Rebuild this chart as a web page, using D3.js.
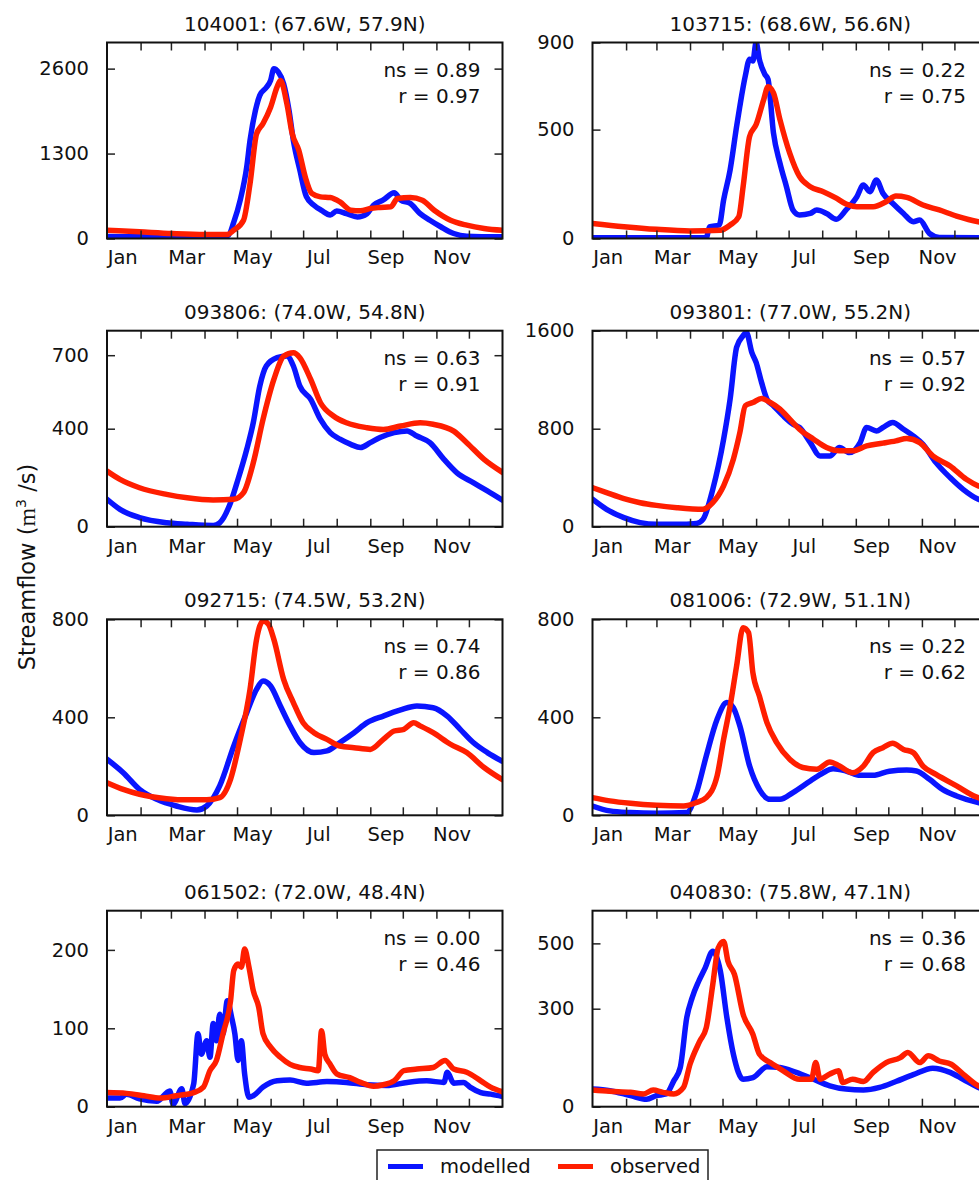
<!DOCTYPE html>
<html>
<head>
<meta charset="utf-8">
<script src="https://cdn.jsdelivr.net/npm/d3@7"></script>
<style>
  html, body { margin: 0; padding: 0; background: #fff; overflow: hidden; }
  svg { display: block; font-family: "DejaVu Sans", sans-serif; }
</style>
</head>
<body>
<div id="chart"></div>
<script>
// month axis (day of year)
const monthStarts = [0, 31, 59, 90, 120, 151, 181, 212, 243, 273, 304, 334];
const monthLabels = ["Jan", "Mar", "May", "Jul", "Sep", "Nov"];
const labelDays = [14, 73, 134, 195, 257, 318];

const stations = ["104001: (67.6W, 57.9N)", "103715: (68.6W, 56.6N)",
                  "093806: (74.0W, 54.8N)", "093801: (77.0W, 55.2N)",
                  "092715: (74.5W, 53.2N)", "081006: (72.9W, 51.1N)",
                  "061502: (72.0W, 48.4N)", "040830: (75.8W, 47.1N)"];
const nsValues = ["0.89", "0.22", "0.63", "0.57", "0.74", "0.22", "0.00", "0.36"];
const rValues  = ["0.97", "0.75", "0.91", "0.92", "0.86", "0.62", "0.46", "0.68"];
const yMax   = [3000, 900, 800, 1600, 800, 800, 250, 600];
const yTicks = [[0, 1300, 2600], [0, 500, 900], [0, 400, 700], [0, 800, 1600],
                [0, 400, 800], [0, 400, 800], [0, 100, 200], [0, 300, 500]];

// [day of year, m3/s]
const mod104001 = [[0,30],[30,25],[60,20],[90,20],[105,25],[112,50],[117,250],[123,590],[129,1100],[132,1500],[137,1960],[141,2190],[147,2310],[151,2420],[154,2600],[158,2550],[163,2370],[168,1960],[172,1500],[178,1045],[184,640],[191,510],[198,430],[206,360],[212,420],[221,380],[231,330],[240,380],[246,510],[255,590],[265,700],[271,590],[280,535],[289,380],[298,280],[308,180],[320,76],[332,36],[365,25]];
const obs104001 = [[0,127],[30,102],[60,76],[90,61],[111,61],[117,127],[126,280],[132,840],[138,1600],[144,1760],[151,2010],[157,2320],[160,2420],[166,2065],[171,1600],[177,1350],[183,940],[189,690],[197,637],[206,627],[215,560],[225,433],[234,423],[243,460],[252,475],[262,485],[268,612],[280,627],[291,586],[302,433],[317,280],[332,204],[348,153],[365,125]];

const mod103715 = [[0,3],[60,3],[105,3],[108,54],[117,62],[121,177],[127,315],[133,515],[136,608],[141,746],[145,823],[148,815],[151,900],[154,823],[159,754],[162,731],[167,485],[173,346],[179,238],[185,131],[191,108],[201,115],[207,131],[216,115],[225,88],[234,131],[244,192],[250,246],[256,215],[262,269],[268,208],[277,162],[287,115],[296,77],[302,85],[311,23],[320,5],[365,3]];
const obs103715 = [[0,69],[29,54],[59,42],[90,35],[118,38],[127,62],[135,100],[139,238],[145,469],[151,523],[158,638],[162,697],[167,669],[173,546],[182,392],[191,285],[201,238],[213,215],[225,185],[234,158],[244,146],[259,146],[271,169],[280,195],[290,189],[305,154],[320,131],[336,103],[356,77],[365,70]];

const mod093806 = [[0,112],[12,71],[30,37],[55,16],[74,10],[98,5],[104,16],[114,98],[120,180],[129,316],[135,425],[141,574],[147,656],[157,690],[166,697],[172,656],[178,574],[188,520],[197,438],[206,384],[215,357],[225,336],[234,323],[243,343],[252,364],[265,384],[277,391],[286,370],[298,343],[311,275],[323,220],[338,180],[351,146],[365,108]];
const obs093806 = [[0,227],[12,193],[30,159],[55,132],[74,118],[98,109],[117,112],[126,139],[135,261],[144,438],[154,601],[163,696],[172,710],[178,690],[188,601],[197,506],[209,452],[221,424],[240,404],[255,397],[271,411],[289,424],[301,418],[320,390],[332,343],[348,275],[365,222]];

const mod093801 = [[0,224],[13,142],[29,74],[44,33],[59,19],[78,19],[96,27],[102,60],[111,305],[121,714],[127,1041],[133,1464],[139,1559],[142,1587],[147,1423],[151,1341],[156,1178],[161,1041],[167,987],[176,905],[185,837],[191,810],[201,687],[210,578],[219,578],[228,646],[237,605],[247,687],[253,810],[262,782],[268,810],[277,851],[287,796],[296,742],[305,673],[317,523],[330,401],[342,305],[356,224],[365,200]];
const obs093801 = [[0,319],[13,278],[29,229],[44,196],[59,174],[78,155],[102,142],[111,196],[121,333],[130,551],[136,769],[141,987],[148,1014],[156,1047],[164,1014],[173,960],[182,878],[191,796],[204,714],[216,646],[228,619],[240,619],[253,660],[268,682],[280,701],[290,720],[302,687],[314,578],[330,496],[345,387],[356,333],[365,310]];

const mod092715 = [[0,229],[15,174],[30,106],[46,65],[64,38],[83,22],[92,38],[104,120],[117,283],[129,419],[138,514],[144,548],[151,528],[160,446],[169,365],[178,297],[191,256],[203,263],[215,297],[228,337],[240,378],[255,405],[271,430],[286,446],[301,439],[314,405],[326,351],[338,297],[351,256],[365,220]];
const obs092715 = [[0,133],[15,106],[30,86],[55,68],[74,63],[92,63],[104,72],[114,147],[123,310],[132,514],[138,718],[144,793],[149,780],[154,718],[163,555],[172,460],[181,378],[191,337],[203,310],[215,283],[228,276],[243,269],[255,310],[265,344],[274,351],[283,378],[289,365],[301,337],[317,290],[332,256],[348,195],[365,145]];

const mod081006 = [[0,38],[16,18],[35,11],[59,8],[87,11],[96,93],[105,242],[115,392],[124,460],[130,439],[136,365],[145,201],[154,106],[164,65],[173,65],[185,93],[201,140],[213,174],[222,190],[234,181],[247,163],[259,163],[274,180],[290,185],[299,181],[311,147],[323,106],[336,79],[356,52],[365,45]];
const obs081006 = [[0,72],[16,59],[35,49],[59,41],[84,38],[96,52],[105,72],[115,161],[121,310],[127,446],[133,610],[139,766],[144,746],[148,582],[154,487],[161,378],[170,297],[182,229],[194,195],[207,188],[219,218],[228,201],[240,174],[250,201],[259,256],[268,276],[277,294],[287,269],[296,256],[305,201],[317,167],[336,120],[356,72],[365,65]];

const mod061502 = [[0,11],[12,11],[18,16],[30,10],[46,7],[58,20],[61,3],[69,23],[72,4],[80,29],[84,93],[87,67],[92,84],[95,63],[98,106],[101,84],[104,118],[107,93],[111,135],[115,114],[118,93],[121,59],[124,84],[127,42],[131,12],[135,14],[144,25],[157,33],[169,34],[184,30],[203,32],[221,31],[240,28],[258,27],[277,31],[295,33],[311,31],[314,44],[320,30],[329,31],[335,25],[345,18],[354,16],[365,13]];
const obs061502 = [[0,18],[18,17],[34,14],[49,11],[64,14],[80,18],[89,25],[95,46],[101,59],[107,93],[114,135],[117,174],[121,182],[124,178],[127,201],[131,178],[135,148],[140,127],[144,93],[151,76],[160,63],[169,54],[178,50],[188,48],[195,46],[198,97],[201,67],[206,54],[212,42],[224,37],[234,31],[246,26],[255,28],[265,33],[274,46],[286,48],[301,50],[312,59],[320,48],[332,44],[345,33],[354,25],[365,19]];

const mod040830 = [[0,54],[16,49],[35,34],[50,23],[59,34],[68,39],[75,79],[81,120],[87,273],[92,334],[98,384],[104,425],[111,476],[118,415],[124,273],[130,161],[139,84],[148,89],[161,122],[173,120],[188,105],[204,84],[219,64],[234,54],[250,51],[265,59],[280,77],[296,98],[314,118],[330,105],[342,84],[356,59],[365,50]];
const obs040830 = [[0,51],[16,47],[35,44],[47,39],[56,51],[65,44],[75,39],[84,59],[90,130],[99,201],[105,242],[111,374],[116,486],[121,506],[125,445],[131,405],[139,283],[148,222],[154,161],[164,135],[176,110],[191,84],[202,84],[206,135],[210,84],[219,100],[227,110],[231,74],[240,84],[250,77],[259,105],[271,135],[284,150],[291,166],[302,135],[310,156],[320,140],[331,130],[342,100],[356,64],[365,55]];

const modelled = [mod104001, mod103715, mod093806, mod093801, mod092715, mod081006, mod061502, mod040830];
const observed = [obs104001, obs103715, obs093806, obs093801, obs092715, obs081006, obs061502, obs040830];

const width = 979, height = 1180;
const colX = [107, 592.5], rowY = [42.5, 330.7, 619.3, 910.7];
const pw = 395.5, ph = 196;
const blue = "#0a14ff", red = "#ff1e00";
const ink = "#111";

const svg = d3.select("#chart").append("svg")
    .attr("width", width)
    .attr("height", height);

const ylab = svg.append("text")
    .attr("transform", "translate(35,567) rotate(-90)")
    .attr("text-anchor", "middle")
    .attr("font-size", 22.5)
    .attr("fill", ink);
ylab.append("tspan").text("Streamflow (");
ylab.append("tspan").attr("font-family", "Liberation Serif, serif").attr("font-size", 24).text("m");
ylab.append("tspan").attr("dy", -9).attr("font-size", 14).text("3");
ylab.append("tspan").attr("dy", 9).text(" /s)");

stations.forEach((name, i) => {
  const x0 = colX[i % 2], y0 = rowY[Math.floor(i / 2)];
  const g = svg.append("g").attr("transform", `translate(${x0},${y0})`);

  const x = d3.scaleLinear().domain([0, 365]).range([0, pw]);
  const y = d3.scaleLinear().domain([0, yMax[i]]).range([ph, 0]);

  g.append("clipPath").attr("id", "clip" + i)
    .append("rect").attr("width", pw).attr("height", ph);

  const line = d3.line()
      .x(d => x(d[0]))
      .y(d => y(d[1]))
      .curve(d3.curveMonotoneX);

  const plot = g.append("g").attr("clip-path", `url(#clip${i})`);
  plot.append("path").datum(modelled[i])
      .attr("d", line).attr("fill", "none")
      .attr("stroke", blue).attr("stroke-width", 5.5)
      .attr("stroke-linejoin", "round").attr("stroke-linecap", "round");
  plot.append("path").datum(observed[i])
      .attr("d", line).attr("fill", "none")
      .attr("stroke", red).attr("stroke-width", 5.5)
      .attr("stroke-linejoin", "round").attr("stroke-linecap", "round");

  // inward ticks, all four sides
  const tl = 8;
  const mt = monthStarts.slice(1);
  const bottom = d3.axisBottom(x).tickValues(mt).tickSize(-tl).tickFormat("");
  const top = d3.axisTop(x).tickValues(mt).tickSize(-tl).tickFormat("");
  const left = d3.axisLeft(y).tickValues(yTicks[i]).tickSize(-tl)
      .tickPadding(10 + tl).tickFormat(d3.format("d"));
  const right = d3.axisRight(y).tickValues(yTicks[i]).tickSize(-tl).tickFormat("");

  g.append("g").attr("transform", `translate(0,${ph})`).call(bottom);
  g.append("g").call(top);
  g.append("g").call(left);
  g.append("g").attr("transform", `translate(${pw},0)`).call(right);
  g.selectAll(".domain").remove();
  g.selectAll(".tick line").attr("stroke", "#222").attr("stroke-width", 1.5);
  g.selectAll(".tick text").attr("font-size", 19.5).attr("fill", ink)
      .attr("font-family", "DejaVu Sans, sans-serif");

  // month labels mid-month
  const xl = d3.axisBottom(x).tickValues(labelDays).tickSize(0).tickPadding(12)
      .tickFormat((d, k) => monthLabels[k]);
  g.append("g").attr("transform", `translate(0,${ph})`).call(xl)
    .call(s => s.select(".domain").remove())
    .selectAll("text").attr("font-size", 19.5).attr("fill", ink)
      .attr("font-family", "DejaVu Sans, sans-serif");

  g.append("rect").attr("width", pw).attr("height", ph)
      .attr("fill", "none").attr("stroke", ink).attr("stroke-width", 2);

  g.append("text").attr("x", pw / 2).attr("y", -12)
      .attr("text-anchor", "middle").attr("font-size", 20).attr("fill", ink)
      .text(name);

  g.append("text").attr("x", pw - 22).attr("y", 34)
      .attr("text-anchor", "end").attr("font-size", 20).attr("fill", ink)
      .text("ns = " + nsValues[i]);
  g.append("text").attr("x", pw - 22).attr("y", 60)
      .attr("text-anchor", "end").attr("font-size", 20).attr("fill", ink)
      .text("r = " + rValues[i]);
});

// legend
const legend = svg.append("g");
legend.append("rect").attr("x", 377).attr("y", 1150).attr("width", 331).attr("height", 50)
    .attr("fill", "#fff").attr("stroke", "#222").attr("stroke-width", 1.5);
const entries = [["modelled", blue, 388], ["observed", red, 558]];
entries.forEach(([label, col, lx]) => {
  legend.append("line").attr("x1", lx).attr("x2", lx + 35)
      .attr("y1", 1166.5).attr("y2", 1166.5)
      .attr("stroke", col).attr("stroke-width", 5);
  legend.append("text").attr("x", lx + 52).attr("y", 1173)
      .attr("font-size", 19.5).attr("fill", ink).text(label);
});
</script>
</body>
</html>
